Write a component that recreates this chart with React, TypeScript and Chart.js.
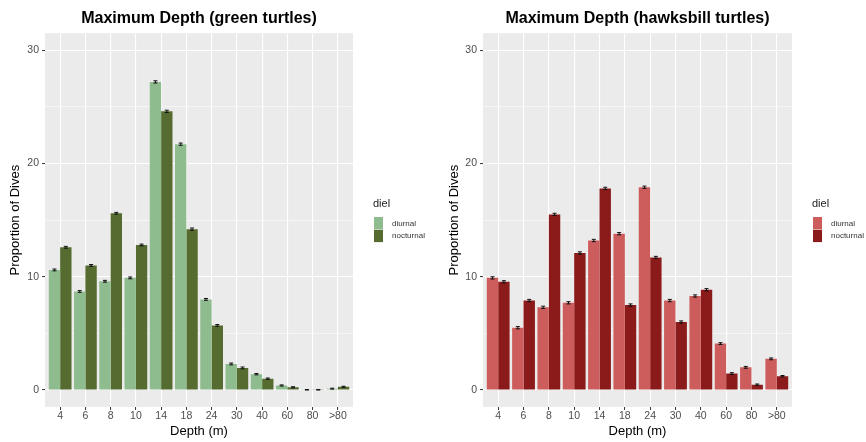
import React, { useEffect, useRef } from 'react';
import { Chart, registerables } from 'chart.js';

Chart.register(...registerables);

const FONT = "'Liberation Sans', Arial, Helvetica, sans-serif";

const categories = ['4', '6', '8', '10', '14', '18', '24', '30', '40', '60', '80', '>80'];
const seriesLabels = ['diurnal', 'nocturnal'];
const yTickValues = [0, 5, 10, 15, 20, 25, 30];

const greenDiurnal = [10.6, 8.7, 9.6, 9.9, 27.2, 21.7, 8.0, 2.3, 1.4, 0.4, 0.02, 0.12];
const greenNocturnal = [12.6, 11.0, 15.6, 12.8, 24.6, 14.2, 5.7, 1.95, 1.0, 0.24, 0.02, 0.28];
const greenDiurnalErr = [0.08, 0.08, 0.08, 0.08, 0.1, 0.1, 0.08, 0.08, 0.06, 0.05, 0.02, 0.04];
const greenNocturnalErr = [0.08, 0.08, 0.08, 0.08, 0.1, 0.1, 0.08, 0.08, 0.06, 0.05, 0.02, 0.05];

const hawkDiurnal = [9.9, 5.5, 7.3, 7.7, 13.2, 13.8, 17.9, 7.9, 8.3, 4.1, 2.0, 2.75];
const hawkNocturnal = [9.55, 7.9, 15.5, 12.1, 17.8, 7.5, 11.7, 6.0, 8.85, 1.45, 0.47, 1.22];
const hawkDiurnalErr = [0.1, 0.1, 0.1, 0.1, 0.1, 0.1, 0.1, 0.1, 0.1, 0.08, 0.08, 0.08];
const hawkNocturnalErr = [0.1, 0.1, 0.1, 0.1, 0.1, 0.1, 0.1, 0.1, 0.1, 0.08, 0.06, 0.06];

const greenColors = ['#8FBC8F', '#556B2F'];
const redColors = ['#CD5C5C', '#8B1A1A'];

const ggPlugin = {
  id: 'ggExtras',
  beforeDraw(chart: any) {
    const { ctx, chartArea: a } = chart;
    ctx.save();
    ctx.fillStyle = '#EBEBEB';
    ctx.fillRect(a.left, a.top, a.right - a.left, a.bottom - a.top);
    ctx.restore();
  },
  afterDatasetsDraw(chart: any) {
    const { ctx } = chart;
    const yScale = chart.scales.y;
    ctx.save();
    ctx.strokeStyle = '#111111';
    ctx.lineWidth = 1;
    chart.data.datasets.forEach((ds: any, i: number) => {
      const meta = chart.getDatasetMeta(i);
      meta.data.forEach((el: any, j: number) => {
        const v = ds.data[j].y;
        const e = ds.errors[j];
        const yt = yScale.getPixelForValue(v + e);
        const yb = yScale.getPixelForValue(Math.max(0, v - e));
        const x = el.x;
        const hw = 2;
        ctx.beginPath();
        ctx.moveTo(x, yt);
        ctx.lineTo(x, yb);
        ctx.moveTo(x - hw, yt);
        ctx.lineTo(x + hw, yt);
        ctx.moveTo(x - hw, yb);
        ctx.lineTo(x + hw, yb);
        ctx.stroke();
      });
    });
    ctx.restore();
  },
  afterDraw(chart: any) {
    const { ctx, chartArea: a } = chart;
    const x0 = a.right + 20;
    ctx.save();
    ctx.fillStyle = '#222222';
    ctx.font = `11px ${FONT}`;
    ctx.textBaseline = 'middle';
    ctx.textAlign = 'left';
    ctx.fillText('diel', x0, 204);
    chart.data.datasets.forEach((ds: any, i: number) => {
      const ky = 217 + i * 12.8;
      ctx.fillStyle = ds.backgroundColor;
      ctx.fillRect(x0 + 1, ky, 9, 12.3);
      ctx.fillStyle = '#333333';
      ctx.font = `8px ${FONT}`;
      ctx.fillText(ds.label, x0 + 19, ky + 6.3);
    });
    ctx.restore();
  },
};

type PanelProps = {
  title: string;
  diurnal: number[];
  nocturnal: number[];
  dErr: number[];
  nErr: number[];
  colors: string[];
  axisWidth: number;
  rightPad: number;
  yTitlePad: number;
  offsetX: number;
};

function Panel(p: PanelProps) {
  const ref = useRef<HTMLCanvasElement | null>(null);
  useEffect(() => {
    if (!ref.current) return;
    const mk = (vals: number[]) => vals.map((y, i) => ({ x: i, y }));
    const chart = new Chart(ref.current, {
      type: 'bar',
      data: {
        datasets: [
          {
            label: seriesLabels[0],
            data: mk(p.diurnal),
            errors: p.dErr,
            backgroundColor: p.colors[0],
            categoryPercentage: 0.9,
            barPercentage: 1.0,
          } as any,
          {
            label: seriesLabels[1],
            data: mk(p.nocturnal),
            errors: p.nErr,
            backgroundColor: p.colors[1],
            categoryPercentage: 0.9,
            barPercentage: 1.0,
          } as any,
        ],
      },
      options: {
        responsive: false,
        animation: false,
        devicePixelRatio: 1,
        layout: { padding: { left: 0, right: p.rightPad, top: 0, bottom: 0 } },
        plugins: {
          legend: { display: false },
          tooltip: { enabled: false },
          title: {
            display: true,
            text: p.title,
            fullSize: false,
            color: '#000000',
            font: { family: FONT, size: 16, weight: 'bold' },
            padding: { top: 9, bottom: 5 },
          },
        },
        scales: {
          x: {
            type: 'linear',
            min: -0.6,
            max: 11.6,
            offset: false,
            afterBuildTicks: (s: any) => {
              s.ticks = categories.map((_, i) => ({ value: i }));
            },
            afterFit: (s: any) => {
              s.height = 35;
            },
            ticks: {
              autoSkip: false,
              maxRotation: 0,
              padding: 0,
              color: '#4D4D4D',
              font: { family: FONT, size: 10.5 },
              callback: (v: any) => categories[v as number] ?? '',
            },
            grid: {
              offset: false,
              color: '#FFFFFF',
              lineWidth: 1.1,
              drawTicks: true,
              tickLength: 3,
              tickColor: '#333333',
              tickWidth: 1,
            },
            border: { display: false },
            title: {
              display: true,
              text: 'Depth (m)',
              color: '#000000',
              font: { family: FONT, size: 13 },
              padding: { top: 0, bottom: 3 },
            },
          },
          y: {
            type: 'linear',
            min: -1.5,
            max: 31.5,
            afterBuildTicks: (s: any) => {
              s.ticks = yTickValues.map((v) => ({ value: v }));
            },
            afterFit: (s: any) => {
              s.width = p.axisWidth;
            },
            ticks: {
              padding: 3,
              color: '#4D4D4D',
              font: { family: FONT, size: 10.5 },
              callback: (v: any) => ((v as number) % 10 === 0 ? String(v) : ''),
            },
            grid: {
              color: '#FFFFFF',
              lineWidth: (c: any) => (c.tick && c.tick.value % 10 === 0 ? 1.1 : 0.55),
              drawTicks: true,
              tickLength: 3,
              tickWidth: 1,
              tickColor: (c: any) => (c.tick && c.tick.value % 10 === 0 ? '#333333' : 'rgba(0,0,0,0)'),
            },
            border: { display: false },
            title: {
              display: true,
              text: 'Proportion of Dives',
              color: '#000000',
              font: { family: FONT, size: 13 },
              padding: { top: p.yTitlePad, bottom: 0 },
            },
          },
        },
      } as any,
      plugins: [ggPlugin],
    });
    return () => chart.destroy();
  }, []);
  return (
    <canvas
      ref={ref}
      width={433}
      height={442}
      style={{ position: 'absolute', left: p.offsetX, top: 0, width: 433, height: 442, display: 'block' }}
    />
  );
}

export default function App() {
  return (
    <div style={{ position: 'absolute', left: 0, top: 0, width: 866, height: 442, overflow: 'hidden', background: '#FFFFFF' }}>
      <Panel
        title="Maximum Depth (green turtles)"
        diurnal={greenDiurnal}
        nocturnal={greenNocturnal}
        dErr={greenDiurnalErr}
        nErr={greenNocturnalErr}
        colors={greenColors}
        axisWidth={45}
        rightPad={80}
        yTitlePad={8}
        offsetX={0}
      />
      <Panel
        title="Maximum Depth (hawksbill turtles)"
        diurnal={hawkDiurnal}
        nocturnal={hawkNocturnal}
        dErr={hawkDiurnalErr}
        nErr={hawkNocturnalErr}
        colors={redColors}
        axisWidth={50}
        rightPad={74}
        yTitlePad={14}
        offsetX={433}
      />
    </div>
  );
}
